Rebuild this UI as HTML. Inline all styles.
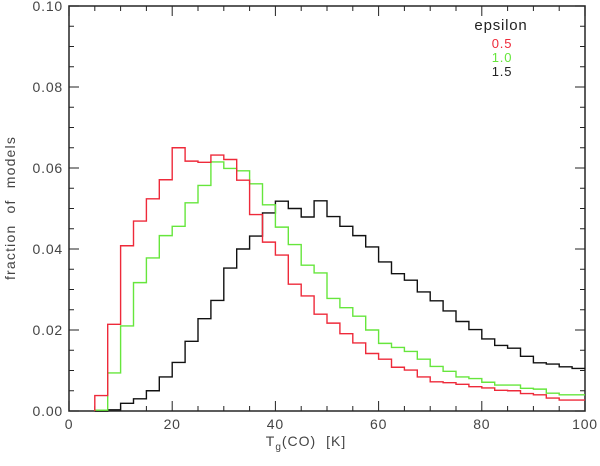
<!DOCTYPE html>
<html><head><meta charset="utf-8"><style>
body{margin:0;background:#fff;}
svg{display:block;font-family:"Liberation Sans",sans-serif;}
</style></head><body>
<svg id="chart" width="600" height="466">
<g id="axes"></g><g id="series"></g>
<text x="306" y="446" font-size="14" text-anchor="middle" fill="#444" letter-spacing="1" word-spacing="5">T<tspan font-size="10" dy="4">g</tspan><tspan dy="-4">(CO) [K]</tspan></text>
<text transform="translate(15,208) rotate(-90)" font-size="14" text-anchor="middle" fill="#444" letter-spacing="1.2" word-spacing="6">fraction of models</text>
<text x="501" y="30" font-size="15" text-anchor="middle" fill="#222" letter-spacing="0.8">epsilon</text>
<text x="502" y="48" font-size="13" text-anchor="middle" fill="#ee2a3a" letter-spacing="0.8">0.5</text>
<text x="502" y="62" font-size="13" text-anchor="middle" fill="#66e63c" letter-spacing="0.8">1.0</text>
<text x="502" y="76" font-size="13" text-anchor="middle" fill="#222" letter-spacing="0.8">1.5</text>
</svg>
<script>
const binStart = 5, binWidth = 2.5;
const xTicks = [0,20,40,60,80,100];
const xTickLabels = ["0","20","40","60","80","100"];
const yTicks = [0,0.02,0.04,0.06,0.08,0.10];
const yTickLabels = ["0.00","0.02","0.04","0.06","0.08","0.10"];
const red = [0.0038,0.0214,0.0408,0.0469,0.0524,0.0571,0.065,0.0617,0.0614,0.0632,0.0621,0.057,0.0485,0.0417,0.0385,0.0313,0.0284,0.0239,0.0217,0.0191,0.0168,0.0142,0.0128,0.0108,0.0101,0.0084,0.0072,0.007,0.0066,0.006,0.0057,0.0051,0.005,0.0043,0.004,0.0032,0.0027,0.0027];
const green = [0.0002,0.0094,0.021,0.0317,0.0378,0.0433,0.0456,0.0514,0.0557,0.0615,0.0599,0.0593,0.0561,0.0509,0.0454,0.0411,0.036,0.0341,0.0278,0.0255,0.0234,0.02,0.0167,0.0157,0.0147,0.0128,0.011,0.0098,0.0084,0.008,0.0071,0.0064,0.0064,0.0056,0.0054,0.0044,0.004,0.004];
const black = [0,0.0003,0.0019,0.003,0.005,0.0084,0.012,0.0172,0.0228,0.0273,0.0353,0.04,0.0432,0.0489,0.0518,0.05,0.0479,0.0519,0.048,0.0456,0.0433,0.0405,0.0368,0.0339,0.0323,0.0294,0.0272,0.0247,0.0221,0.0201,0.0178,0.0162,0.0155,0.0135,0.0119,0.0116,0.0109,0.0105];
const L=69,R=585,T=6,B=411;
const sx=v=>L+(v-0)/100*(R-L);
const sy=v=>B-(v/0.1)*(B-T);
const NS="http://www.w3.org/2000/svg";
function mk(tag,attrs,parent){const e=document.createElementNS(NS,tag);for(const k in attrs)e.setAttribute(k,attrs[k]);parent.appendChild(e);return e;}
const ax=document.getElementById('axes');
const frame=mk('rect',{x:L,y:T,width:R-L,height:B-T,fill:'none',stroke:'#333','stroke-width':1.6},ax);


for(let v=0;v<=100;v+=5){const maj=v%20===0;const len=maj?10:5;const x=sx(v);
mk('line',{x1:x,y1:B,x2:x,y2:B-len,stroke:'#222','stroke-width':1},ax);
mk('line',{x1:x,y1:T,x2:x,y2:T+len,stroke:'#222','stroke-width':1},ax);}
for(let i=0;i<=20;i++){const v=i*0.005;const maj=i%4===0;const len=maj?10:5;const y=sy(v);
mk('line',{x1:L,y1:y,x2:L+len,y2:y,stroke:'#222','stroke-width':1},ax);
mk('line',{x1:R,y1:y,x2:R-len,y2:y,stroke:'#222','stroke-width':1},ax);}
xTicks.forEach((v,i)=>{const t=mk('text',{x:sx(v),y:B+18,'font-size':14,'text-anchor':'middle',fill:'#444','letter-spacing':0.8},ax);t.textContent=xTickLabels[i];

});
yTicks.forEach((v,i)=>{const t=mk('text',{x:L-6,y:sy(v)+5,'font-size':14,'text-anchor':'end',fill:'#444','letter-spacing':0.8},ax);t.textContent=yTickLabels[i];

});
function step(vals,start){let d='';vals.forEach((v,i)=>{const x0=sx(start+i*binWidth),x1=sx(start+(i+1)*binWidth),y=sy(v);
d+=(i===0?`M${x0},${sy(0)} L${x0},${y}`:` L${x0},${y}`)+` L${x1},${y}`;});return d;}
const sg=document.getElementById('series');
const s1=mk('path',{d:step(black,binStart),fill:'none',stroke:'#111','stroke-width':1.4},sg);


const s2=mk('path',{d:step(green,binStart),fill:'none',stroke:'#66e63c','stroke-width':1.4},sg);


const s3=mk('path',{d:step(red,binStart),fill:'none',stroke:'#ee2a3a','stroke-width':1.4},sg);


</script>
</body></html>
